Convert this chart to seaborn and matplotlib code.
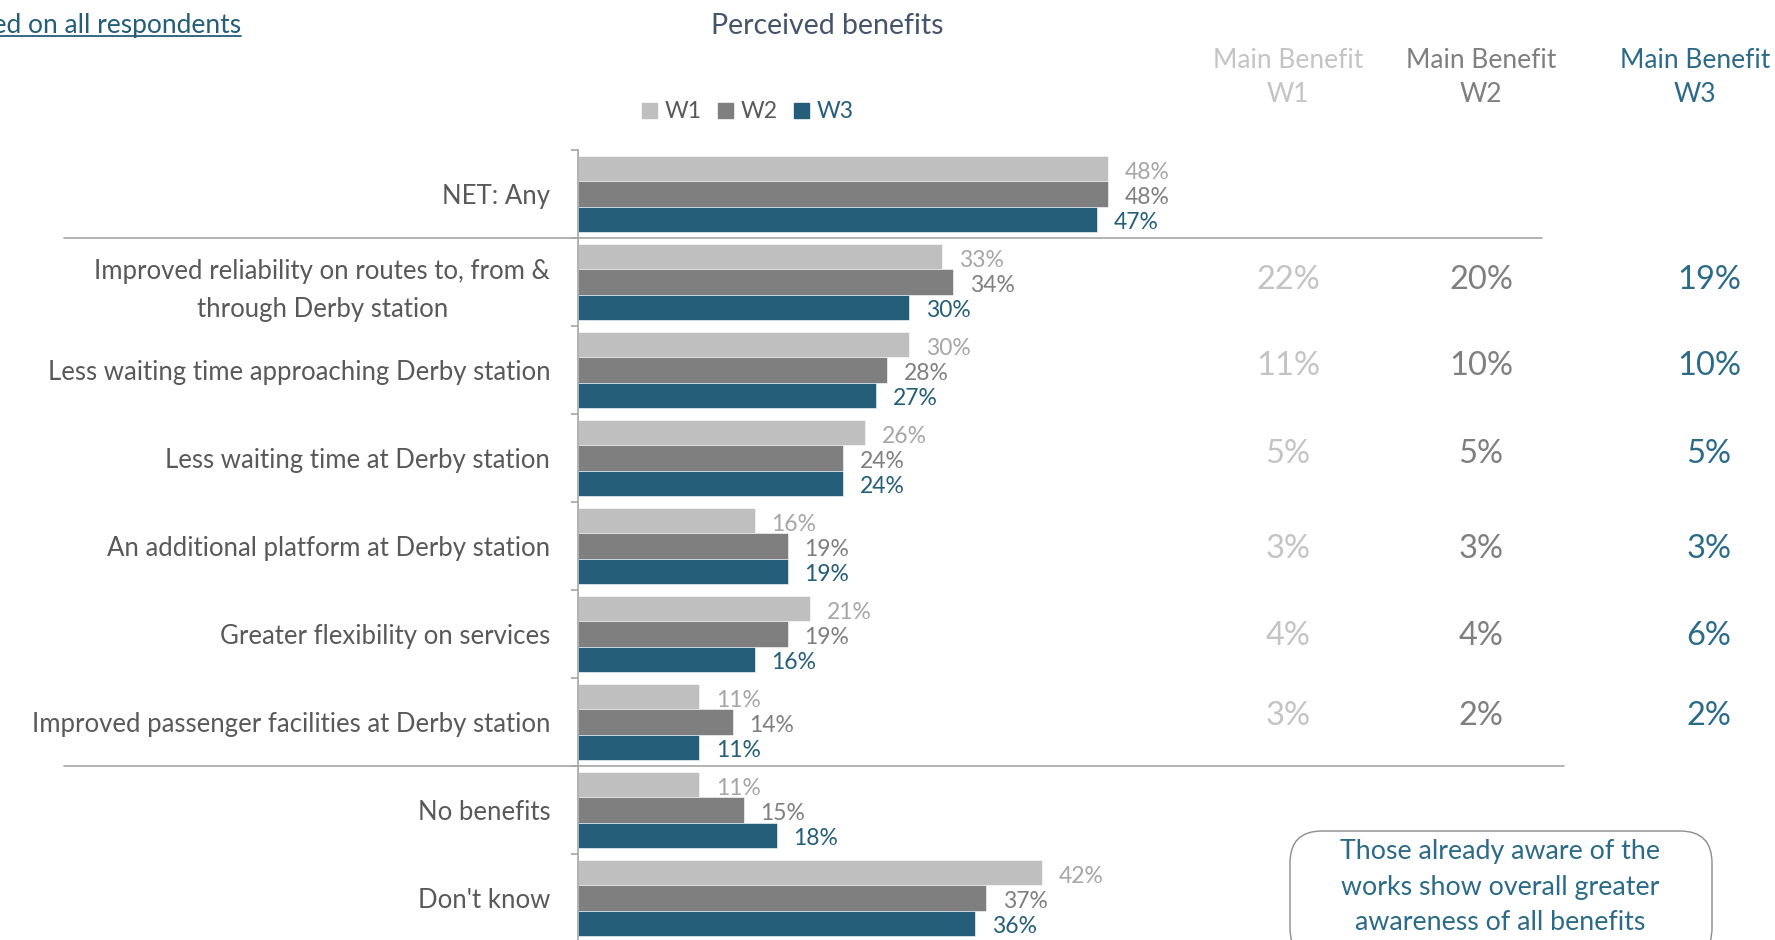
import matplotlib
matplotlib.use("Agg")
import matplotlib.pyplot as plt
from matplotlib.patches import FancyBboxPatch
from matplotlib.lines import Line2D
import matplotlib.transforms as mtransforms
import seaborn as sns
import pandas as pd

# ---- data -------------------------------------------------------------
categories = [
    "NET: Any",
    "Improved reliability on routes to, from &\nthrough Derby station",
    "Less waiting time approaching Derby station",
    "Less waiting time at Derby station",
    "An additional platform at Derby station",
    "Greater flexibility on services",
    "Improved passenger facilities at Derby station",
    "No benefits",
    "Don't know",
]
waves = ["W1", "W2", "W3"]
w1 = [48, 33, 30, 26, 16, 21, 11, 11, 42]
w2 = [48, 34, 28, 24, 19, 19, 14, 15, 37]
w3 = [47, 30, 27, 24, 19, 16, 11, 18, 36]

# main benefit (rows 1..6 of the categories)
main_w1 = [22, 11, 5, 3, 4, 3]
main_w2 = [20, 10, 5, 3, 4, 2]
main_w3 = [19, 10, 5, 3, 6, 2]

# ---- style ------------------------------------------------------------
sns.set_theme(style="white")
plt.rcParams["font.family"] = ["Lato", "DejaVu Sans"]

C_W1 = "#BFBFBF"
C_W2 = "#7F7F7F"
C_W3 = "#245E78"
TXT = "#595959"
LBL = {"W1": "#A6A6A6", "W2": "#7F7F7F", "W3": C_W3}
HDR = {"W1": "#C4C4C4", "W2": "#7F7F7F", "W3": "#2B6B88"}

df = pd.DataFrame({
    "category": categories * 3,
    "wave": ["W1"] * 9 + ["W2"] * 9 + ["W3"] * 9,
    "value": w1 + w2 + w3,
})

W, H = 1775, 940
fig = plt.figure(figsize=(W / 100, H / 100), dpi=100)

ax_left, ax_top, px_per_pct = 578, 150, 11.04
xmax = 60
ax_w = xmax * px_per_pct
ax_h = 9 * 88
ax = fig.add_axes([ax_left / W, (H - ax_top - ax_h) / H, ax_w / W, ax_h / H])

sns.barplot(data=df, y="category", x="value", hue="wave", orient="h",
            palette={"W1": C_W1, "W2": C_W2, "W3": C_W3},
            order=categories, hue_order=waves, width=0.86,
            edgecolor="white", linewidth=0.4, saturation=1, ax=ax, legend=False)

ax.set_xlim(0, xmax)
ax.set_ylim(8.5, -0.5)
ax.set_xlabel("")
ax.set_ylabel("")
ax.set_xticks([])
for s in ["top", "right", "bottom"]:
    ax.spines[s].set_visible(False)
ax.spines["left"].set_color("#A6A6A6")
ax.spines["left"].set_linewidth(1.2)

ax.set_yticks(range(len(categories)))
ax.set_yticklabels(categories, fontsize=18.5, color=TXT, multialignment="center",
                   linespacing=1.6)
ax.set_yticks([i - 0.5 for i in range(len(categories) + 1)], minor=True)
ax.tick_params(axis="y", which="major", length=0, pad=20)
ax.tick_params(axis="y", which="minor", length=5, width=1.2, color="#A6A6A6",
               direction="out", left=True)

# value labels at the end of each bar, nudged a little below the bar centre
for container, wave in zip(ax.containers, waves):
    texts = ax.bar_label(container,
                         labels=[f"{int(v)}%" for v in container.datavalues],
                         padding=12, fontsize=16.5, color=LBL[wave])
    for t in texts:
        dx, dy = t.xyann
        t.xyann = (dx, dy - 2.5)

# separators between NET / individual benefits / other answers
trans_rows = mtransforms.blended_transform_factory(fig.transFigure, ax.transData)
for yb, x1 in [(0.5, 1542), (6.5, 1564)]:
    ax.add_line(Line2D([64 / W, x1 / W], [yb, yb], transform=trans_rows,
                       color="#A6A6A6", lw=1.2, clip_on=False))

# main-benefit columns
col_x = {"W1": 1288, "W2": 1481, "W3": 1695}
val_x = {"W1": 1288, "W2": 1481, "W3": 1709}
for wave in waves:
    fig.text(col_x[wave] / W, 1 - 60 / H, "Main Benefit", ha="center", va="center",
             fontsize=19, color=HDR[wave])
    fig.text(col_x[wave] / W, 1 - 95 / H, wave, ha="center", va="center",
             fontsize=19, color=HDR[wave])
offsets = [-0.02, -0.04, -0.04, 0.03, 0.02, -0.07]
for wave, vals in zip(waves, [main_w1, main_w2, main_w3]):
    for i, v in enumerate(vals):
        ax.text(val_x[wave] / W, i + 1 + offsets[i], f"{v}%", transform=trans_rows,
                ha="center", va="center", fontsize=23.5, color=HDR[wave], clip_on=False)

# title
fig.text(827 / W, 1 - 26 / H, "Perceived benefits", ha="center", va="center",
         fontsize=20.5, color="#44546A")

# legend
handles = [plt.Rectangle((0, 0), 1, 1, color=c) for c in (C_W1, C_W2, C_W3)]
leg = fig.legend(handles, waves, loc="center left",
                 bbox_to_anchor=(631 / W, 1 - 112 / H), ncol=3, frameon=False,
                 fontsize=16.5, handlelength=0.65, handleheight=0.65,
                 handletextpad=0.3, columnspacing=0.75, borderpad=0,
                 labelcolor=[TXT, TXT, C_W3])

# base note, top left, underlined
note = fig.text(241 / W, 1 - 25 / H, "Based on all respondents", ha="right",
                va="center", fontsize=19, color=C_W3)
fig.canvas.draw()
bb = note.get_window_extent().transformed(fig.transFigure.inverted())
fig.add_artist(Line2D([bb.x0, bb.x1], [bb.y0 + 0.002, bb.y0 + 0.002],
                      transform=fig.transFigure, color=C_W3, lw=1.3))

# call-out box
box = FancyBboxPatch((1290 / W, -20 / H), 422 / W, (940 - 831 + 20) / H,
                     boxstyle="round,pad=0,rounding_size=0.018",
                     transform=fig.transFigure, facecolor="white",
                     edgecolor="#8C8C8C", lw=1.0, mutation_aspect=W / H)
fig.add_artist(box)
for txt, y in [("Those already aware of the", 852), ("works show overall greater", 887),
               ("awareness of all benefits", 922)]:
    fig.text(1500 / W, 1 - y / H, txt, ha="center", va="center", fontsize=19.3,
             color="#2B6B88")

fig.savefig("out.png", dpi=100)
